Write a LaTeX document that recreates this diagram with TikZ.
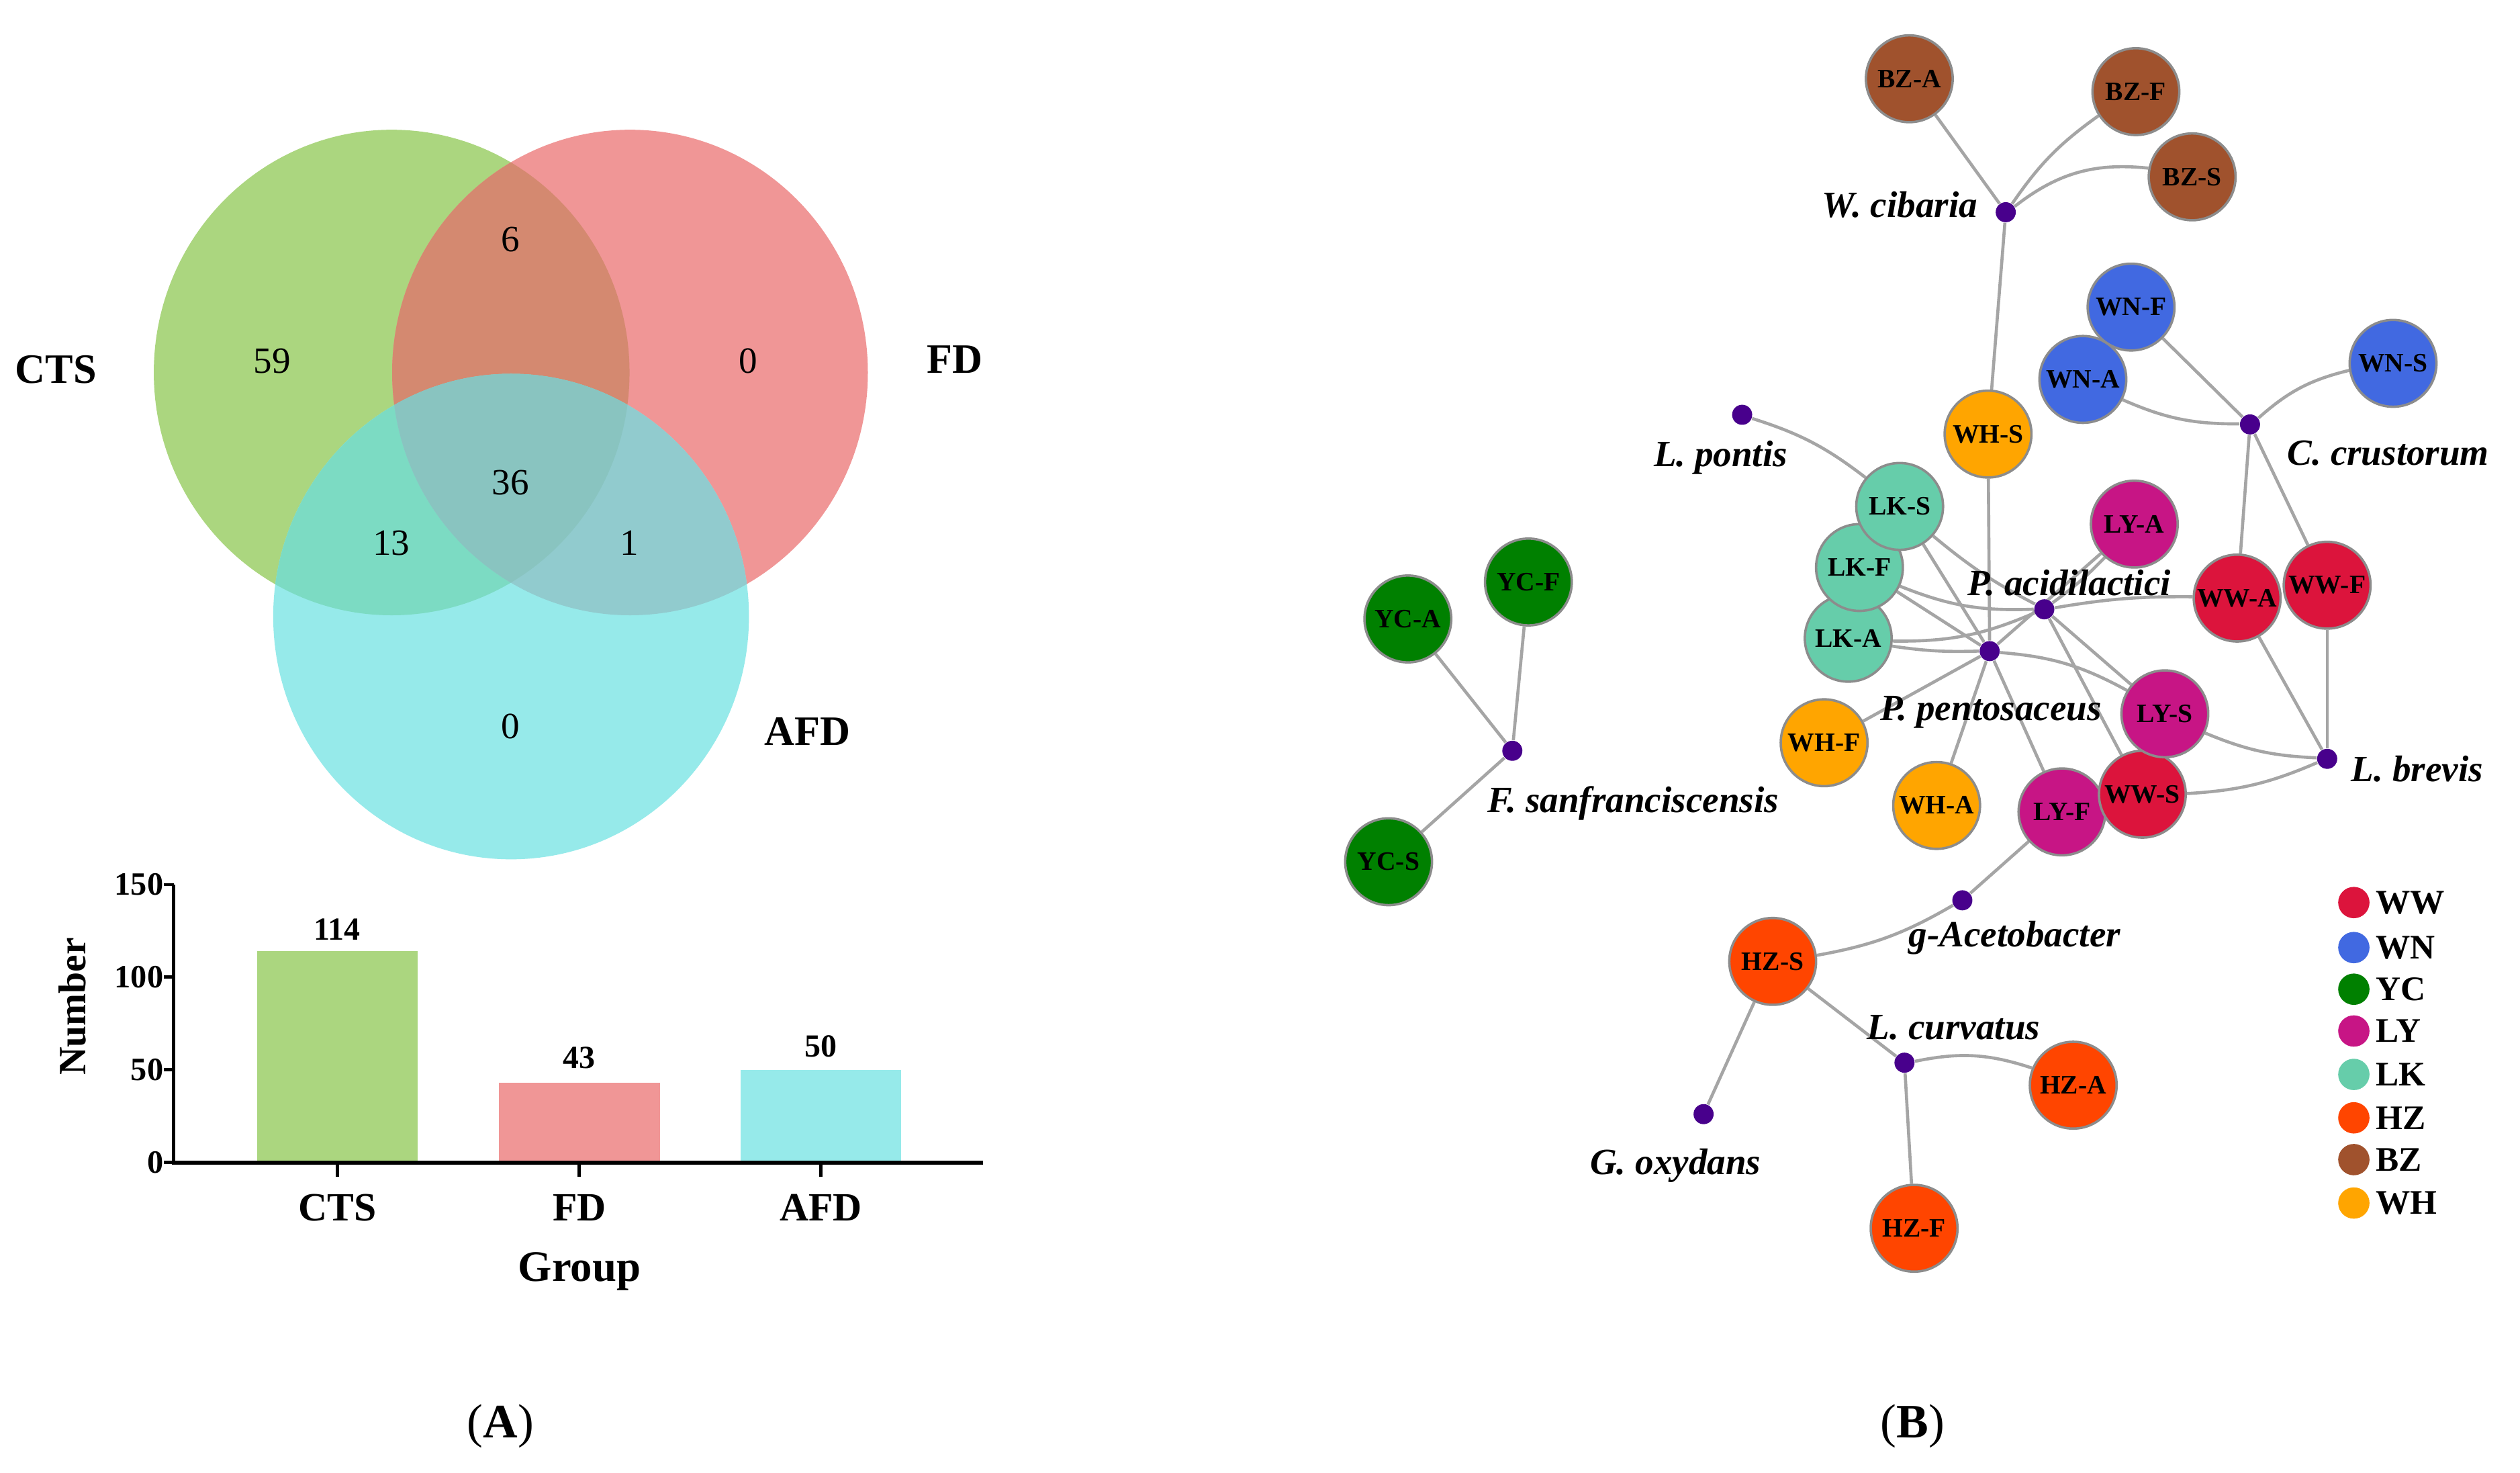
\documentclass[tikz,border=0pt]{standalone}
\usepackage{fontspec}
\setmainfont{Liberation Serif}
\usetikzlibrary{backgrounds}
\pgfdeclarelayer{paper}
\pgfsetlayers{paper,background,main}
\definecolor{vgreen}{RGB}{171,214,127}
\definecolor{vred}{RGB}{240,150,150}
\definecolor{vcyan}{RGB}{150,234,234}
\definecolor{vgr}{RGB}{212,137,112}
\definecolor{vgc}{RGB}{124,219,195}
\definecolor{vrc}{RGB}{145,203,206}
\definecolor{vgrc}{RGB}{137,196,192}
\definecolor{cWW}{RGB}{220,20,60}
\definecolor{cWN}{RGB}{65,105,225}
\definecolor{cYC}{RGB}{0,128,0}
\definecolor{cLY}{RGB}{199,21,133}
\definecolor{cLK}{RGB}{102,205,170}
\definecolor{cHZ}{RGB}{255,69,0}
\definecolor{cBZ}{RGB}{160,82,45}
\definecolor{cWH}{RGB}{255,165,0}
\definecolor{hubc}{RGB}{72,0,140}
\definecolor{edgec}{RGB}{165,165,165}
\definecolor{nodeb}{RGB}{140,140,140}
\begin{document}
\begin{tikzpicture}[x=0.2mm,y=-0.2mm,
 vnum/.style={font=\fontsize{13.1pt}{14pt}\selectfont, inner sep=0pt},
 vlab/.style={font=\fontsize{14.8pt}{16pt}\selectfont\bfseries, inner sep=0pt},
 ticklab/.style={font=\fontsize{11.5pt}{12pt}\selectfont\bfseries, inner sep=0pt, anchor=east},
 barval/.style={font=\fontsize{11.4pt}{12pt}\selectfont\bfseries, inner sep=0pt},
 cat/.style={font=\fontsize{14.2pt}{15pt}\selectfont\bfseries, inner sep=0pt},
 axt/.style={font=\fontsize{15.4pt}{16pt}\selectfont\bfseries, inner sep=0pt},
 panel/.style={font=\fontsize{17pt}{18pt}\selectfont, inner sep=0pt},
 smp/.style={circle, draw=nodeb, line width=0.85pt, minimum size=10.8mm, inner sep=0pt, font=\fontsize{9.4pt}{10pt}\selectfont\bfseries},
 hub/.style={circle, fill=hubc, minimum size=2.5mm, inner sep=0pt},
 sp/.style={font=\fontsize{13.1pt}{14pt}\selectfont\bfseries\itshape, inner sep=0pt},
 lnk/.style={draw=edgec, line width=1.1pt},
 legdot/.style={circle, minimum size=3.9mm, inner sep=0pt},
 legt/.style={font=\fontsize{12.2pt}{13pt}\selectfont\bfseries, inner sep=0pt, anchor=west},
 axisline/.style={line width=0.5mm, black},
]
\useasboundingbox (0,0) rectangle (1568,916);
\begin{pgfonlayer}{paper}
\fill[white] (0,0) rectangle (1568,916);
\end{pgfonlayer}

% ---------------- Venn diagram ----------------
\fill[vgreen] (243.7,231.7) ellipse [x radius=29.6mm, y radius=30.2mm];
\fill[vred] (392,231.7) ellipse [x radius=29.6mm, y radius=30.2mm];
\fill[vcyan] (318,383.5) ellipse [x radius=29.6mm, y radius=30.2mm];
\begin{scope}
 \clip (243.7,231.7) ellipse [x radius=29.6mm, y radius=30.2mm];
 \fill[vgr] (392,231.7) ellipse [x radius=29.6mm, y radius=30.2mm];
 \fill[vgc] (318,383.5) ellipse [x radius=29.6mm, y radius=30.2mm];
\end{scope}
\begin{scope}
 \clip (392,231.7) ellipse [x radius=29.6mm, y radius=30.2mm];
 \fill[vrc] (318,383.5) ellipse [x radius=29.6mm, y radius=30.2mm];
 \clip (243.7,231.7) ellipse [x radius=29.6mm, y radius=30.2mm];
 \fill[vgrc] (318,383.5) ellipse [x radius=29.6mm, y radius=30.2mm];
\end{scope}
\node[vnum] (n6) at (317.7,149) {6};
\node[vnum] (n59) at (169.3,224.5) {59};
\node[vnum] (n0a) at (465.7,224.5) {0};
\node[vnum] (n36) at (317.7,300) {36};
\node[vnum] (n13) at (243.5,337.6) {13};
\node[vnum] (n1) at (391.5,337.6) {1};
\node[vnum] (n0b) at (317.7,452) {0};
\node[vlab] (lCTS) at (34.8,229.7) {CTS};
\node[vlab] (lFD) at (594,223.5) {FD};
\node[vlab] (lAFD) at (502.5,455) {AFD};

% ---------------- Bar chart ----------------
\fill[vgreen] (159.9,723) rectangle (259.8,591.7);
\fill[vred] (310.6,723) rectangle (410.5,673.5);
\fill[vcyan] (460.8,723) rectangle (560.8,665.4);
\draw[axisline] (108,550.2) -- (108,723);
\draw[axisline] (106.8,723) -- (611.5,723);
\foreach \yy in {550.2,607.8,665.4,723} {\draw[axisline, line width=0.4mm] (102,\yy) -- (108,\yy);}
\foreach \xx in {209.8,360.5,510.8} {\draw[axisline, line width=0.4mm] (\xx,723) -- (\xx,732);}
\node[ticklab] (t150) at (102,550.2) {150};
\node[ticklab] (t100) at (102,607.8) {100};
\node[ticklab] (t50) at (102,665.4) {50};
\node[ticklab] (t0) at (102,723) {0};
\node[barval] (v114) at (209.8,578.2) {114};
\node[barval] (v43) at (360.5,658) {43};
\node[barval] (v50) at (510.8,651) {50};
\node[cat] (cCTS) at (209.8,751) {CTS};
\node[cat] (cFD) at (360.5,751) {FD};
\node[cat] (cAFD) at (510.8,751) {AFD};
\node[axt] (xlab) at (360.5,791) {Group};
\node[axt, font=\fontsize{13.7pt}{14pt}\selectfont\bfseries, rotate=90] (ylab) at (45,626) {Number};

% ---------------- Panel labels ----------------
\node[panel] (pA) at (311.5,887) {(\textbf{A})};
\node[panel] (pB) at (1190,887) {(\textbf{B})};

% ---------------- Network ----------------
% hubs
\node[hub] (wc) at (1248,132) {};
\node[hub] (cc) at (1400,264) {};
\node[hub] (lp) at (1084,258) {};
\node[hub] (pa) at (1272,379) {};
\node[hub] (pp) at (1238,405) {};
\node[hub] (lb) at (1448,472) {};
\node[hub] (fs) at (941,467) {};
\node[hub] (ga) at (1221,560) {};
\node[hub] (lc) at (1185,661) {};
\node[hub] (go) at (1060,693) {};
% species labels
\node[sp] (twc) at (1182,127.4) {W. cibaria};
\node[sp] (tcc) at (1486,282) {C. crustorum};
\node[sp] (tlp) at (1070.6,284.6) {L. pontis};
\node[sp] (tpa) at (1287.6,362.6) {P. acidilactici};
\node[sp] (tpp) at (1238.8,443.2) {P. pentosaceus};
\node[sp] (tlb) at (1504,478.2) {L. brevis};
\node[sp] (tfs) at (1016.1,499.5) {F. sanfranciscensis};
\node[sp] (tga) at (1253.5,583.4) {g-Acetobacter};
\node[sp] (tlc) at (1215.6,639.3) {L. curvatus};
\node[sp] (tgo) at (1042.5,724.9) {G. oxydans};
% samples
\node[smp, fill=cBZ] (BZA) at (1188,49) {BZ-A};
\node[smp, fill=cBZ] (BZF) at (1329,57) {BZ-F};
\node[smp, fill=cBZ] (BZS) at (1364,110) {BZ-S};
\node[smp, fill=cWN] (WNF) at (1326,191) {WN-F};
\node[smp, fill=cWN] (WNA) at (1296,236) {WN-A};
\node[smp, fill=cWN] (WNS) at (1489,226) {WN-S};
\node[smp, fill=cWH] (WHS) at (1237,270) {WH-S};
\node[smp, fill=cLK] (LKA) at (1150,397) {LK-A};
\node[smp, fill=cLK] (LKF) at (1157,353) {LK-F};
\node[smp, fill=cLK] (LKS) at (1182,315) {LK-S};
\node[smp, fill=cLY] (LYA) at (1328,326) {LY-A};
\node[smp, fill=cWW] (WWA) at (1392,372) {WW-A};
\node[smp, fill=cWW] (WWF) at (1448,364) {WW-F};
\node[smp, fill=cLY] (LYF) at (1283,505) {LY-F};
\node[smp, fill=cWW] (WWS) at (1333,494) {WW-S};
\node[smp, fill=cLY] (LYS) at (1347,444) {LY-S};
\node[smp, fill=cWH] (WHF) at (1135,462) {WH-F};
\node[smp, fill=cWH] (WHA) at (1205,501) {WH-A};
\node[smp, fill=cYC] (YCA) at (876,385) {YC-A};
\node[smp, fill=cYC] (YCF) at (951,362) {YC-F};
\node[smp, fill=cYC] (YCS) at (864,536) {YC-S};
\node[smp, fill=cHZ] (HZS) at (1103,598) {HZ-S};
\node[smp, fill=cHZ] (HZA) at (1290,675) {HZ-A};
\node[smp, fill=cHZ] (HZF) at (1191,764) {HZ-F};

\begin{scope}[on background layer]
 % W. cibaria
 \draw[lnk] (wc) -- (BZA);
 \draw[lnk] (wc) to[bend left=10] (BZF);
 \draw[lnk] (wc) to[bend left=22] (BZS);
 \draw[lnk] (wc) -- (WHS);
 % C. crustorum
 \draw[lnk] (cc) -- (WNF);
 \draw[lnk] (WNA) to[bend right=12] (cc);
 \draw[lnk] (cc) to[bend left=14] (WNS);
 \draw[lnk] (cc) -- (WWA);
 \draw[lnk] (cc) -- (WWF);
 % L. pontis
 \draw[lnk] (lp) to[bend left=10] (LKS);
 % P. pentosaceus
 \draw[lnk] (pp) -- (WHS);
 \draw[lnk] (pp) -- (LKS);
 \draw[lnk] (pp) -- (LKF);
 \draw[lnk] (LKA) to[bend right=5] (pp);
 \draw[lnk] (pp) -- (WHF);
 \draw[lnk] (pp) -- (WHA);
 \draw[lnk] (pp) -- (LYF);
 \draw[lnk] (pp) to[bend left=12] (LYS);
 \draw[lnk] (pp) -- (LYA);
 % P. acidilactici
 \draw[lnk] (LKS) to[bend right=6] (pa);
 \draw[lnk] (LKF) to[bend right=12] (pa);
 \draw[lnk] (LKA) to[bend right=12] (pa);
 \draw[lnk] (pa) to[bend right=5] (LYA);
 \draw[lnk] (pa) to[bend left=5] (WWA);
 \draw[lnk] (pa) -- (LYS);
 \draw[lnk] (pa) -- (WWS);
 % L. brevis
 \draw[lnk] (lb) -- (WWA);
 \draw[lnk] (lb) -- (WWF);
 \draw[lnk] (LYS) to[bend right=10] (lb);
 \draw[lnk] (WWS) to[bend right=10] (lb);
 % F. sanfranciscensis
 \draw[lnk] (fs) -- (YCA);
 \draw[lnk] (fs) -- (YCF);
 \draw[lnk] (fs) -- (YCS);
 % g-Acetobacter
 \draw[lnk] (ga) -- (LYF);
 \draw[lnk] (HZS) to[bend right=10] (ga);
 % L. curvatus
 \draw[lnk] (lc) -- (HZS);
 \draw[lnk] (lc) -- (HZF);
 \draw[lnk] (lc) to[bend left=15] (HZA);
 % G. oxydans
 \draw[lnk] (go) -- (HZS);
\end{scope}

% legend
\node[legdot, fill=cWW] (gWW) at (1464.6,561.4) {};
\node[legdot, fill=cWN] (gWN) at (1464.6,589.4) {};
\node[legdot, fill=cYC] (gYC) at (1464.6,615.3) {};
\node[legdot, fill=cLY] (gLY) at (1464.6,641.3) {};
\node[legdot, fill=cLK] (gLK) at (1464.6,668.3) {};
\node[legdot, fill=cHZ] (gHZ) at (1464.6,695.3) {};
\node[legdot, fill=cBZ] (gBZ) at (1464.6,721.3) {};
\node[legdot, fill=cWH] (gWH) at (1464.6,748.3) {};
\node[legt] (lWW) at (1478,561.4) {WW};
\node[legt] (lWN) at (1478,589.4) {WN};
\node[legt] (lYC) at (1478,615.3) {YC};
\node[legt] (lLY) at (1478,641.3) {LY};
\node[legt] (lLK) at (1478,668.3) {LK};
\node[legt] (lHZ) at (1478,695.3) {HZ};
\node[legt] (lBZ) at (1478,721.3) {BZ};
\node[legt] (lWH) at (1478,748.3) {WH};
\end{tikzpicture}
\end{document}
